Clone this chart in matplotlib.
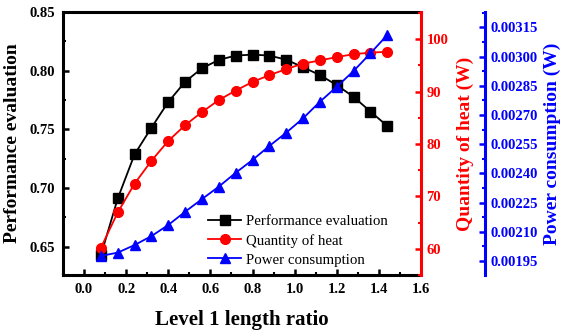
import matplotlib
matplotlib.use("Agg")
import matplotlib.pyplot as plt
from matplotlib.ticker import MultipleLocator, FormatStrFormatter

plt.rcParams['font.family'] = ['Liberation Serif', 'DejaVu Serif']
plt.rcParams['mathtext.fontset'] = 'stix'

ratio = [0.08, 0.16, 0.24, 0.32, 0.40, 0.48, 0.56, 0.64, 0.72, 0.80, 0.88,
         0.96, 1.04, 1.12, 1.20, 1.28, 1.36, 1.44]
performance = [0.6429, 0.6912, 0.7288, 0.7515, 0.7734, 0.7906, 0.8021, 0.8092,
               0.8129, 0.8137, 0.8129, 0.8094, 0.8029, 0.7963, 0.7877, 0.7777,
               0.7652, 0.7529]
heat = [60.2, 66.95, 72.45, 76.8, 80.6, 83.6, 86.1, 88.4, 90.2, 91.85, 93.15,
        94.3, 95.35, 95.95, 96.6, 97.15, 97.45, 97.6]
power = [0.001976, 0.001993, 0.002032, 0.002078, 0.002135, 0.002203, 0.002268,
         0.002332, 0.002403, 0.002469, 0.002541, 0.002609, 0.002683, 0.002768,
         0.002845, 0.002926, 0.003017, 0.003111]

fig = plt.figure(figsize=(5.63, 3.31), dpi=100)
ax = fig.add_axes([63/563, 1-275/331, (421-63)/563, (275-12)/331])
ax2 = ax.twinx()
ax3 = ax.twinx()

l1, = ax.plot(ratio, performance, color='black', marker='s', markersize=6.5, lw=1.3,
              label='Performance evaluation')
l2, = ax2.plot(ratio, heat, color='red', marker='o', markersize=7, lw=1.3,
               label='Quantity of heat')
l3, = ax3.plot(ratio, power, color='blue', marker='^', markersize=7.5, lw=1.3,
               label='Power consumption')

ax.set_xlim(-0.1, 1.6)
ax.set_ylim(0.626, 0.85)
ax2.set_ylim(55.0, 105.2)
ax3.set_ylim(0.001878, 0.003229)

ax.xaxis.set_major_locator(MultipleLocator(0.2))
ax.xaxis.set_minor_locator(MultipleLocator(0.1))
ax.xaxis.set_major_formatter(FormatStrFormatter('%.1f'))
ax.yaxis.set_major_locator(MultipleLocator(0.05))
ax.yaxis.set_minor_locator(MultipleLocator(0.025))
ax.yaxis.set_major_formatter(FormatStrFormatter('%.2f'))
ax2.yaxis.set_major_locator(MultipleLocator(10))
ax2.yaxis.set_minor_locator(MultipleLocator(5))
ax3.yaxis.set_major_locator(MultipleLocator(0.00015))
ax3.yaxis.set_minor_locator(MultipleLocator(0.000075))
ax3.yaxis.set_major_formatter(FormatStrFormatter('%.5f'))

lw = 2.2
for s in ['left', 'bottom', 'top']:
    ax.spines[s].set_linewidth(lw)
ax.spines['right'].set_visible(False)
ax2.spines['right'].set_color('red')
ax2.spines['right'].set_linewidth(lw)
for s in ['left', 'top', 'bottom']:
    ax2.spines[s].set_visible(False)
    ax3.spines[s].set_visible(False)
ax3.spines['right'].set_position(('axes', (485-63)/(421-63)))
ax3.spines['right'].set_color('blue')
ax3.spines['right'].set_linewidth(lw)

tfs = 10.5
ax.tick_params(axis='both', which='major', direction='in', length=4, width=1.8,
               labelsize=tfs, pad=6)
ax.tick_params(axis='both', which='minor', direction='in', length=2.5, width=1.5)
ax.tick_params(axis='x', top=False, which='both')
ax2.tick_params(axis='y', which='major', direction='in', length=4, width=1.8,
                colors='red', labelsize=tfs, pad=4)
ax2.tick_params(axis='y', which='minor', direction='in', length=2.5, width=1.5, colors='red')
ax3.tick_params(axis='y', which='major', direction='in', length=4, width=1.8,
                colors='blue', labelsize=tfs, pad=4)
ax3.tick_params(axis='y', which='minor', direction='in', length=2.5, width=1.5, colors='blue')

for a in (ax, ax2, ax3):
    for t in a.get_xticklabels() + a.get_yticklabels():
        t.set_fontweight('bold')

ax.set_xlabel('Level 1 length ratio', fontsize=15, fontweight='bold', labelpad=10)
ax.set_ylabel('Performance evaluation', fontsize=14, fontweight='bold', labelpad=6)
ax2.set_ylabel('Quantity of heat (W)', fontsize=14, fontweight='bold', color='red', labelpad=6)
ax3.set_ylabel('Power consumption (W)', fontsize=14, fontweight='bold', color='blue', labelpad=4)

leg = ax3.legend(handles=[l1, l2, l3], loc='lower left', frameon=False, fontsize=10.7,
                 bbox_to_anchor=(201/563, 1-274/331), bbox_transform=fig.transFigure,
                 handlelength=2.2, handletextpad=0.3, labelspacing=0.38, borderpad=0)

fig.savefig('out.png', dpi=100)
